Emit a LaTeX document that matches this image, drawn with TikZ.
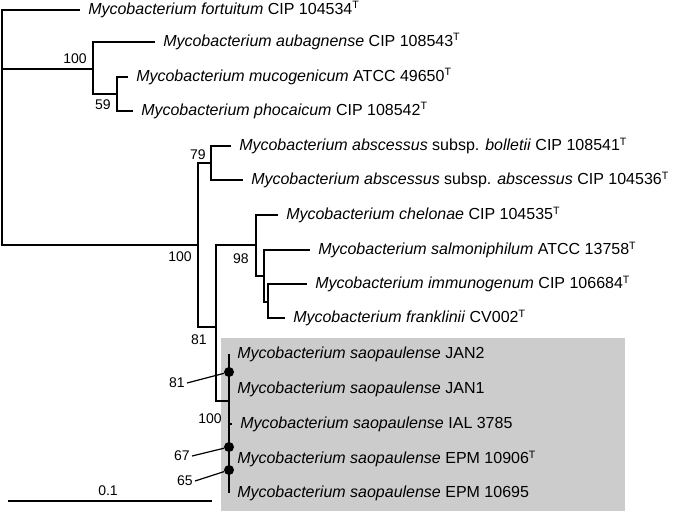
\documentclass[tikz,border=0pt]{standalone}
\usepackage{fontspec}
\setmainfont{Liberation Sans}
\usetikzlibrary{calc,positioning}
\tikzstyle{leaf} = [anchor=west, inner xsep=6pt, inner ysep=0pt,
    text height=0.8em, text depth=0.08em, font=\fontsize{12}{14}\selectfont]
\tikzstyle{boot} = [anchor=east, inner xsep=1.5pt, inner ysep=0pt,
    text height=0.72em, text depth=0pt, font=\fontsize{10.5}{12}\selectfont]
\tikzstyle{branchline} = [line width=0.9pt]
\tikzstyle{support} = [circle, fill=black, inner sep=0pt, minimum size=7.5pt]
\newcommand{\myco}[1]{\textit{Mycobacterium #1}}
\newcommand{\typestrain}{\textsuperscript{T}}

\begin{document}
\begin{tikzpicture}[x=0.75pt, y=-0.75pt]
        \useasboundingbox (0,0) rectangle (673,511);
        % shaded saopaulense group
        \fill [black!20] (221,338) rectangle (625,511);
        % internal nodes
        \coordinate (root) at (2,69);
        \coordinate (aubclade) at (93,69);
        \coordinate (mucclade) at (117,94);
        \coordinate (abscomplex) at (198,245);
        \coordinate (absclade) at (211,163);
        \coordinate (chelgroup) at (216,327);
        \coordinate (chelclade) at (256,245);
        \coordinate (salclade) at (264,276);
        \coordinate (immclade) at (268,302);
        \coordinate (saoclade) at (229,401);
        % leaves
        \node (fort) [leaf] at (80,10) {\myco{fortuitum} CIP 104534\typestrain};
        \node (aub) [leaf] at (155,42) {\myco{aubagnense} CIP 108543\typestrain};
        \node (muc) [leaf] at (128,77) {\myco{mucogenicum} ATCC 49650\typestrain};
        \node (pho) [leaf] at (133,111) {\myco{phocaicum} CIP 108542\typestrain};
        \node (bol) [leaf] at (231,146) {\myco{abscessus} subsp. \textit{bolletii} CIP 108541\typestrain};
        \node (abs) [leaf] at (243,180) {\myco{abscessus} subsp. \textit{abscessus} CIP 104536\typestrain};
        \node (che) [leaf] at (278,215) {\myco{chelonae} CIP 104535\typestrain};
        \node (sal) [leaf] at (310,250) {\myco{salmoniphilum} ATCC 13758\typestrain};
        \node (imm) [leaf] at (307,284) {\myco{immunogenum} CIP 106684\typestrain};
        \node (fra) [leaf] at (285,318) {\myco{franklinii} CV002\typestrain};
        \node (jan2) [leaf] at (229,354) {\myco{saopaulense} JAN2};
        \node (jan1) [leaf] at (229,389) {\myco{saopaulense} JAN1};
        \node (ial) [leaf] at (232,424) {\myco{saopaulense} IAL 3785};
        \node (epm906) [leaf] at (229,459) {\myco{saopaulense} EPM 10906\typestrain};
        \node (epm695) [leaf] at (229,493) {\myco{saopaulense} EPM 10695};
        % branches
        \draw [branchline] (root) |- (fort.west);
        \draw [branchline] (root) |- (aubclade);
        \draw [branchline] (root) |- (abscomplex);
        \draw [branchline] (aubclade) |- (aub.west);
        \draw [branchline] (aubclade) |- (mucclade);
        \draw [branchline] (mucclade) |- (muc.west);
        \draw [branchline] (mucclade) |- (pho.west);
        \draw [branchline] (abscomplex) |- (absclade);
        \draw [branchline] (abscomplex) |- (chelgroup);
        \draw [branchline] (absclade) |- (bol.west);
        \draw [branchline] (absclade) |- (abs.west);
        \draw [branchline] (chelgroup) |- (chelclade);
        \draw [branchline] (chelgroup) |- (saoclade);
        \draw [branchline] (chelclade) |- (che.west);
        \draw [branchline] (chelclade) |- (salclade);
        \draw [branchline] (salclade) |- (sal.west);
        \draw [branchline] (salclade) |- (immclade);
        \draw [branchline] (immclade) |- (imm.west);
        \draw [branchline] (immclade) |- (fra.west);
        \draw [branchline] (jan2.west) -- (epm695.west);
        \draw [branchline] (ial.west) -- (ial.west -| saoclade);
        % supported nodes inside the group
        \node (sao81) [support] at (229,372) {};
        \node (sao67) [support] at (229,447) {};
        \node (sao65) [support] at (229,470) {};
        \draw [line width=1.8pt] (saoclade) -- (sao67);
        % bootstrap values
        \node (bs100a) [boot] at (89,59) {100};
        \node (bs59) [boot] at (113,105) {59};
        \node (bs79) [boot] at (208,155) {79};
        \node (bs100b) [boot] at (194,257) {100};
        \node (bs98) [boot] at (251,259) {98};
        \node (bs81a) [boot] at (209,340) {81};
        \node (bs100c) [boot] at (224,419) {100};
        \node (bs81b) [boot] at (187,383) {81};
        \node (bs67) [boot] at (192,456) {67};
        \node (bs65) [boot] at (195,481) {65};
        \draw [branchline] (bs81b.east) -- (sao81);
        \draw [branchline] (bs67.east) -- (sao67);
        \draw [branchline] (bs65.east) -- (sao65);
        % scale bar
        \coordinate (sbleft) at (8,501);
        \coordinate (sbright) at (212,501);
        \node (sblabel) [boot, anchor=center] at (108,491) {0.1};
        \draw [branchline] (sbleft) -- (sbright);
    \end{tikzpicture}
\end{document}
